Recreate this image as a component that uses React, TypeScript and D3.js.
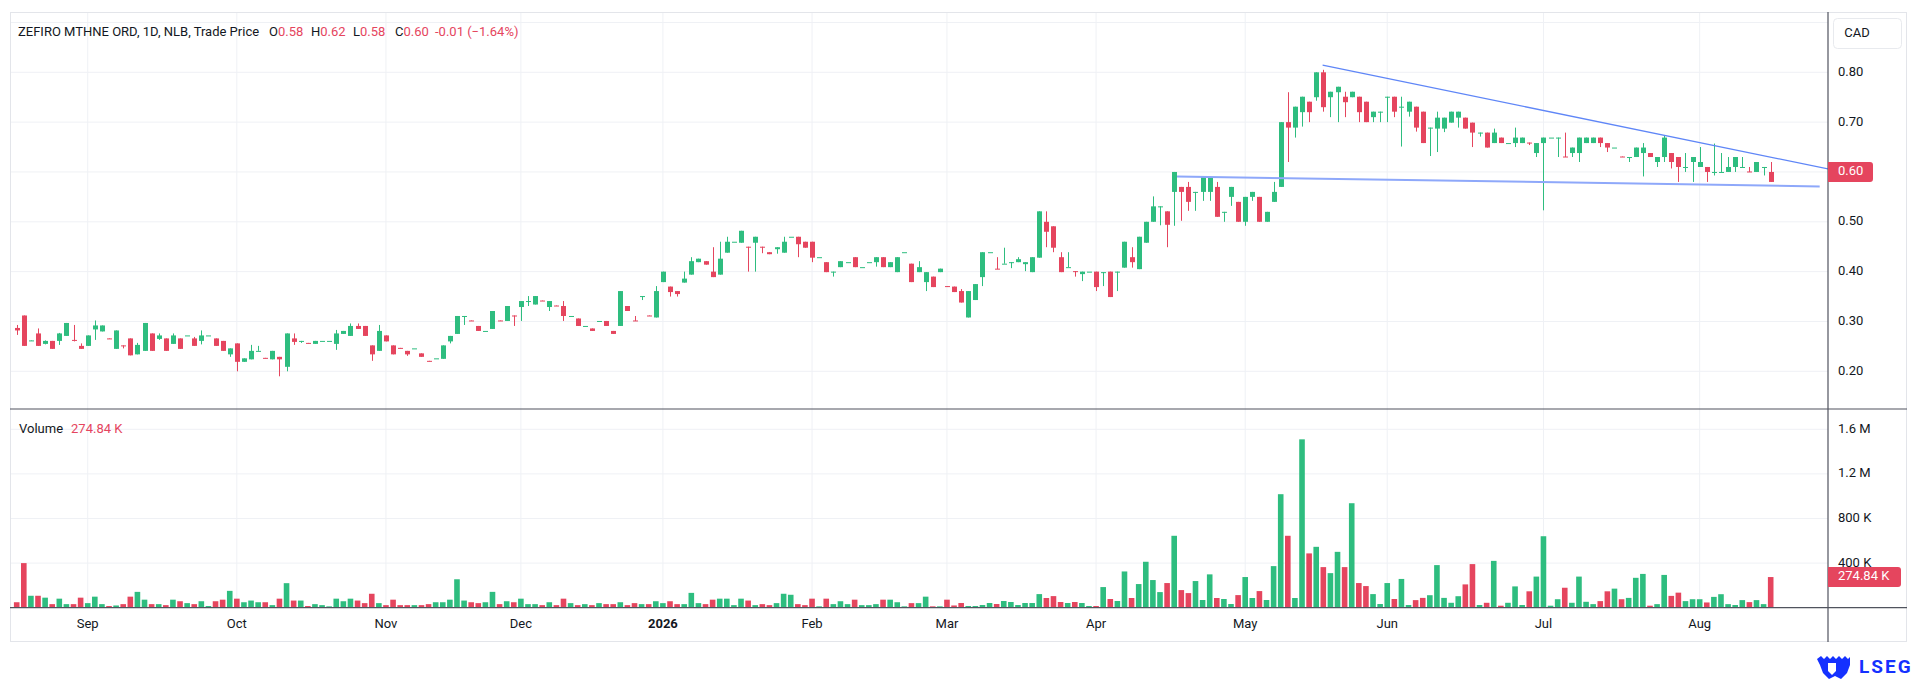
import React from "react";
import * as d3 from "d3";

// [open, high, low, close, volume in thousands]
type Bar = [number, number, number, number, number];

const aug2025: Bar[] = [
  [0.287, 0.293, 0.273, 0.282, 49], [0.312, 0.312, 0.251, 0.251, 400], [0.261, 0.262, 0.261, 0.262, 107],
  [0.276, 0.286, 0.251, 0.251, 107], [0.255, 0.262, 0.254, 0.261, 90], [0.261, 0.261, 0.245, 0.245, 32],
  [0.261, 0.277, 0.253, 0.276, 81], [0.271, 0.297, 0.271, 0.297, 32], [0.263, 0.293, 0.26, 0.261, 32],
  [0.251, 0.256, 0.245, 0.245, 90],
];
const sep2025: Bar[] = [
  [0.251, 0.272, 0.251, 0.272, 41], [0.284, 0.302, 0.263, 0.292, 99], [0.28, 0.292, 0.28, 0.292, 32],
  [0.266, 0.266, 0.265, 0.265, 15], [0.245, 0.282, 0.245, 0.282, 20], [0.252, 0.252, 0.246, 0.251, 32],
  [0.266, 0.266, 0.232, 0.232, 99], [0.234, 0.257, 0.234, 0.253, 142], [0.241, 0.297, 0.241, 0.297, 72],
  [0.276, 0.276, 0.241, 0.241, 32], [0.265, 0.276, 0.263, 0.272, 32], [0.266, 0.266, 0.241, 0.241, 23],
  [0.255, 0.276, 0.255, 0.272, 72], [0.266, 0.266, 0.245, 0.245, 58], [0.272, 0.272, 0.272, 0.272, 41],
  [0.266, 0.269, 0.251, 0.251, 32], [0.261, 0.282, 0.254, 0.272, 58], [0.272, 0.272, 0.272, 0.272, 15],
  [0.266, 0.266, 0.251, 0.251, 58], [0.261, 0.261, 0.241, 0.241, 72], [0.234, 0.246, 0.229, 0.246, 151],
];
const oct2025: Bar[] = [
  [0.256, 0.256, 0.2, 0.219, 81], [0.219, 0.226, 0.219, 0.226, 49], [0.224, 0.253, 0.224, 0.241, 64],
  [0.241, 0.251, 0.241, 0.241, 49], [0.227, 0.227, 0.226, 0.226, 49], [0.224, 0.241, 0.224, 0.241, 23],
  [0.229, 0.229, 0.19, 0.224, 81], [0.209, 0.276, 0.2, 0.276, 220], [0.266, 0.276, 0.253, 0.259, 64],
  [0.261, 0.261, 0.257, 0.261, 64], [0.257, 0.257, 0.256, 0.256, 15], [0.255, 0.261, 0.255, 0.261, 32],
  [0.261, 0.261, 0.261, 0.261, 23], [0.261, 0.261, 0.261, 0.261, 12], [0.255, 0.283, 0.243, 0.276, 81],
  [0.275, 0.281, 0.275, 0.281, 58], [0.271, 0.296, 0.271, 0.291, 81], [0.291, 0.296, 0.285, 0.285, 64],
  [0.291, 0.291, 0.271, 0.271, 41], [0.252, 0.252, 0.221, 0.234, 125], [0.241, 0.293, 0.241, 0.281, 41],
];
const nov2025: Bar[] = [
  [0.272, 0.272, 0.26, 0.26, 23], [0.252, 0.252, 0.234, 0.234, 72], [0.247, 0.247, 0.246, 0.246, 23],
  [0.241, 0.241, 0.231, 0.234, 23], [0.246, 0.246, 0.246, 0.246, 23], [0.236, 0.236, 0.229, 0.229, 23],
  [0.221, 0.221, 0.22, 0.22, 32], [0.226, 0.226, 0.226, 0.226, 49], [0.225, 0.252, 0.225, 0.252, 49],
  [0.26, 0.271, 0.256, 0.271, 72], [0.275, 0.311, 0.275, 0.311, 255], [0.311, 0.311, 0.293, 0.311, 64],
  [0.302, 0.302, 0.301, 0.301, 49], [0.291, 0.291, 0.281, 0.281, 41], [0.281, 0.281, 0.281, 0.281, 49],
  [0.285, 0.321, 0.285, 0.321, 142], [0.302, 0.302, 0.301, 0.301, 32], [0.301, 0.331, 0.301, 0.331, 58],
  [0.312, 0.312, 0.291, 0.311, 49],
];
const dec2025: Bar[] = [
  [0.329, 0.341, 0.301, 0.341, 81], [0.341, 0.351, 0.331, 0.341, 32], [0.334, 0.351, 0.334, 0.351, 32],
  [0.342, 0.342, 0.341, 0.341, 23], [0.329, 0.341, 0.321, 0.341, 49], [0.332, 0.332, 0.331, 0.331, 23],
  [0.331, 0.341, 0.301, 0.311, 81], [0.311, 0.311, 0.311, 0.311, 41], [0.306, 0.306, 0.291, 0.291, 23],
  [0.291, 0.291, 0.291, 0.291, 32], [0.286, 0.286, 0.281, 0.281, 23], [0.301, 0.301, 0.301, 0.301, 41],
  [0.301, 0.301, 0.291, 0.291, 32], [0.281, 0.281, 0.275, 0.275, 32], [0.291, 0.361, 0.291, 0.361, 49],
  [0.331, 0.331, 0.321, 0.321, 23], [0.302, 0.311, 0.301, 0.301, 41], [0.351, 0.351, 0.343, 0.351, 32],
  [0.312, 0.312, 0.311, 0.311, 32], [0.308, 0.371, 0.308, 0.361, 58],
];
const jan2026: Bar[] = [
  [0.379, 0.4, 0.379, 0.4, 41], [0.37, 0.37, 0.35, 0.359, 58], [0.361, 0.361, 0.35, 0.355, 32],
  [0.378, 0.4, 0.378, 0.386, 32], [0.394, 0.429, 0.394, 0.421, 133], [0.419, 0.426, 0.419, 0.426, 41],
  [0.421, 0.421, 0.414, 0.414, 32], [0.4, 0.449, 0.389, 0.389, 72], [0.394, 0.46, 0.394, 0.426, 81],
  [0.438, 0.47, 0.438, 0.46, 81], [0.46, 0.46, 0.46, 0.46, 23], [0.458, 0.482, 0.458, 0.482, 81],
  [0.45, 0.45, 0.4, 0.449, 64], [0.458, 0.47, 0.4, 0.47, 23], [0.45, 0.45, 0.437, 0.449, 32],
  [0.439, 0.439, 0.435, 0.435, 23], [0.445, 0.449, 0.436, 0.449, 41], [0.438, 0.47, 0.438, 0.46, 125],
  [0.47, 0.47, 0.47, 0.47, 116], [0.47, 0.47, 0.429, 0.455, 32], [0.46, 0.46, 0.448, 0.448, 23],
];
const feb2026: Bar[] = [
  [0.46, 0.46, 0.419, 0.428, 81], [0.429, 0.429, 0.429, 0.429, 12], [0.419, 0.419, 0.399, 0.399, 81],
  [0.4, 0.4, 0.39, 0.4, 32], [0.409, 0.421, 0.409, 0.421, 58], [0.419, 0.419, 0.419, 0.419, 32],
  [0.429, 0.429, 0.409, 0.409, 72], [0.409, 0.409, 0.409, 0.409, 23], [0.419, 0.419, 0.419, 0.419, 23],
  [0.419, 0.429, 0.41, 0.429, 32], [0.429, 0.429, 0.409, 0.409, 72], [0.409, 0.419, 0.409, 0.419, 72],
  [0.399, 0.429, 0.399, 0.429, 49], [0.439, 0.439, 0.439, 0.439, 12], [0.416, 0.416, 0.379, 0.379, 41],
  [0.399, 0.421, 0.399, 0.409, 41], [0.379, 0.399, 0.361, 0.399, 99], [0.39, 0.39, 0.369, 0.369, 12],
  [0.399, 0.406, 0.399, 0.406, 12],
];
const mar2026: Bar[] = [
  [0.371, 0.371, 0.37, 0.37, 72], [0.37, 0.37, 0.359, 0.359, 20], [0.361, 0.365, 0.338, 0.338, 42],
  [0.308, 0.361, 0.308, 0.361, 15], [0.343, 0.375, 0.343, 0.375, 15], [0.389, 0.439, 0.371, 0.439, 24],
  [0.439, 0.439, 0.439, 0.439, 42], [0.406, 0.429, 0.405, 0.405, 33], [0.416, 0.448, 0.416, 0.416, 60],
  [0.419, 0.419, 0.407, 0.419, 51], [0.419, 0.429, 0.419, 0.425, 24], [0.415, 0.419, 0.401, 0.419, 42],
  [0.399, 0.429, 0.399, 0.429, 42], [0.428, 0.521, 0.428, 0.521, 122], [0.5, 0.521, 0.449, 0.48, 87],
  [0.491, 0.491, 0.439, 0.448, 104], [0.429, 0.439, 0.399, 0.399, 51], [0.409, 0.439, 0.409, 0.409, 42],
  [0.401, 0.401, 0.39, 0.4, 51], [0.395, 0.4, 0.381, 0.4, 42], [0.4, 0.4, 0.4, 0.4, 15],
];
const apr2026: Bar[] = [
  [0.4, 0.4, 0.361, 0.369, 15], [0.399, 0.399, 0.371, 0.399, 185], [0.4, 0.4, 0.349, 0.349, 78],
  [0.4, 0.4, 0.361, 0.4, 60], [0.408, 0.46, 0.408, 0.46, 325], [0.429, 0.449, 0.408, 0.419, 87],
  [0.405, 0.47, 0.405, 0.47, 212], [0.458, 0.5, 0.458, 0.5, 412], [0.5, 0.551, 0.5, 0.531, 248],
  [0.531, 0.531, 0.493, 0.531, 140], [0.521, 0.521, 0.449, 0.494, 221], [0.56, 0.6, 0.492, 0.6, 645],
  [0.57, 0.57, 0.502, 0.56, 158], [0.57, 0.58, 0.522, 0.54, 131], [0.56, 0.56, 0.522, 0.56, 239],
  [0.56, 0.59, 0.542, 0.59, 69], [0.56, 0.59, 0.542, 0.59, 299], [0.57, 0.58, 0.51, 0.51, 87],
  [0.52, 0.52, 0.5, 0.52, 78], [0.55, 0.57, 0.532, 0.57, 33], [0.54, 0.54, 0.5, 0.5, 113],
];
const may2026: Bar[] = [
  [0.5, 0.55, 0.492, 0.55, 275], [0.55, 0.56, 0.542, 0.56, 87], [0.55, 0.55, 0.5, 0.5, 149],
  [0.5, 0.52, 0.5, 0.52, 69], [0.54, 0.58, 0.54, 0.56, 373], [0.57, 0.7, 0.57, 0.7, 1018],
  [0.7, 0.76, 0.62, 0.689, 645], [0.689, 0.731, 0.669, 0.731, 87], [0.72, 0.751, 0.691, 0.751, 1510],
  [0.741, 0.741, 0.7, 0.72, 487], [0.75, 0.8, 0.743, 0.8, 546], [0.8, 0.805, 0.721, 0.73, 364],
  [0.75, 0.761, 0.71, 0.761, 310], [0.76, 0.771, 0.7, 0.771, 501], [0.751, 0.761, 0.71, 0.74, 364],
  [0.75, 0.761, 0.75, 0.761, 937], [0.751, 0.751, 0.7, 0.72, 221], [0.741, 0.741, 0.7, 0.7, 194],
  [0.71, 0.721, 0.7, 0.721, 122], [0.721, 0.721, 0.7, 0.721, 33],
];
const jun2026: Bar[] = [
  [0.751, 0.751, 0.7, 0.751, 221], [0.751, 0.751, 0.71, 0.721, 78], [0.731, 0.751, 0.651, 0.731, 258],
  [0.721, 0.741, 0.711, 0.741, 24], [0.731, 0.731, 0.681, 0.689, 68], [0.721, 0.721, 0.658, 0.658, 88],
  [0.689, 0.689, 0.632, 0.689, 112], [0.687, 0.721, 0.64, 0.709, 382], [0.687, 0.709, 0.68, 0.709, 88],
  [0.699, 0.721, 0.699, 0.721, 44], [0.709, 0.721, 0.689, 0.721, 103], [0.709, 0.709, 0.687, 0.687, 209],
  [0.699, 0.699, 0.65, 0.679, 391], [0.679, 0.679, 0.671, 0.679, 24], [0.679, 0.679, 0.649, 0.649, 44],
  [0.658, 0.687, 0.658, 0.679, 420], [0.669, 0.669, 0.658, 0.658, 18], [0.658, 0.658, 0.658, 0.658, 44],
  [0.658, 0.689, 0.65, 0.669, 191], [0.658, 0.669, 0.658, 0.669, 24], [0.659, 0.659, 0.654, 0.658, 147],
  [0.638, 0.658, 0.63, 0.658, 279],
];
const jul2026: Bar[] = [
  [0.658, 0.669, 0.523, 0.669, 641], [0.669, 0.669, 0.669, 0.669, 18], [0.669, 0.669, 0.63, 0.669, 76],
  [0.631, 0.679, 0.63, 0.63, 179], [0.638, 0.649, 0.63, 0.649, 44], [0.638, 0.669, 0.62, 0.669, 279],
  [0.658, 0.669, 0.658, 0.669, 53], [0.658, 0.669, 0.658, 0.669, 32], [0.669, 0.669, 0.65, 0.658, 59],
  [0.658, 0.658, 0.64, 0.649, 147], [0.649, 0.649, 0.649, 0.649, 171], [0.631, 0.631, 0.63, 0.63, 76],
  [0.63, 0.63, 0.62, 0.63, 88], [0.63, 0.649, 0.63, 0.649, 268], [0.638, 0.658, 0.591, 0.649, 303],
  [0.638, 0.638, 0.63, 0.63, 18], [0.62, 0.63, 0.61, 0.63, 32], [0.63, 0.674, 0.62, 0.669, 294],
  [0.638, 0.638, 0.607, 0.62, 106], [0.63, 0.63, 0.58, 0.61, 135], [0.61, 0.638, 0.6, 0.61, 59],
  [0.62, 0.63, 0.58, 0.63, 76],
];
const aug2026: Bar[] = [
  [0.61, 0.65, 0.61, 0.62, 76], [0.61, 0.61, 0.58, 0.6, 47], [0.6, 0.657, 0.593, 0.6, 97],
  [0.6, 0.638, 0.6, 0.6, 121], [0.6, 0.63, 0.6, 0.61, 32], [0.61, 0.63, 0.6, 0.63, 24],
  [0.61, 0.63, 0.61, 0.61, 68], [0.601, 0.61, 0.6, 0.6, 50], [0.6, 0.62, 0.6, 0.62, 68],
  [0.61, 0.61, 0.593, 0.61, 32], [0.6, 0.62, 0.58, 0.58, 274.84],
];

const months: { label: string; bold?: boolean; bars: Bar[] }[] = [
  { label: "", bars: aug2025 },
  { label: "Sep", bars: sep2025 },
  { label: "Oct", bars: oct2025 },
  { label: "Nov", bars: nov2025 },
  { label: "Dec", bars: dec2025 },
  { label: "2026", bold: true, bars: jan2026 },
  { label: "Feb", bars: feb2026 },
  { label: "Mar", bars: mar2026 },
  { label: "Apr", bars: apr2026 },
  { label: "May", bars: may2026 },
  { label: "Jun", bars: jun2026 },
  { label: "Jul", bars: jul2026 },
  { label: "Aug", bars: aug2026 },
];

const priceTicks = [0.2, 0.3, 0.4, 0.5, 0.6, 0.7, 0.8];
const priceGrid = [0.2, 0.3, 0.4, 0.5, 0.6, 0.7, 0.8, 0.9];
const volumeTicks = [400, 800, 1200, 1600]; // thousands

// trend lines: [bar index, price]
const upperTrend: [number, number][] = [[183.9, 0.8145], [255.07, 0.606]];
const lowerTrend: [number, number][] = [[163.4, 0.591], [253.9, 0.571]];

const legendTitle = "ZEFIRO MTHNE ORD, 1D, NLB, Trade Price";
const legendValues = [
  { k: "O", v: "0.58" },
  { k: "H", v: "0.62" },
  { k: "L", v: "0.58" },
  { k: "C", v: "0.60" },
];
const legendChange = "-0.01 (\u22121.64%)";
const lastPrice = 0.6;
const lastVolumeLabel = "274.84 K";

const GREEN = "#2ebd7f";
const RED = "#e5455e";
const TEXT = "#131722";
const GRID = "#eff1f5";
const AXIS = "#50535e";
const FONT = "Roboto, 'Noto Sans', sans-serif";

const L = 10;
const R = 1907;
const TOP = 12;
const BOTTOM = 642;
const AXIS_X = 1828;
const PANE_SPLIT = 409;
const VOL_BASE = 607.7;

const App: React.FC = () => {
  const bars: Bar[] = months.flatMap(m => m.bars);
  const monthStarts: { label: string; bold?: boolean; index: number }[] = [];
  let acc = 0;
  months.forEach(m => {
    if (m.label) monthStarts.push({ label: m.label, bold: m.bold, index: acc });
    acc += m.bars.length;
  });

  const x = d3.scaleLinear().domain([-0.944, 255.07]).range([L, AXIS_X]);
  const y = d3.scaleLinear().domain([0.2, 0.8]).range([371.3, 72.3]);
  const yv = d3.scaleLinear().domain([0, 1600]).range([VOL_BASE, 429.3]);
  const volFmt = (v: number) => (v >= 1000 ? `${d3.format(".1f")(v / 1000)} M` : `${v} K`);

  const line = d3
    .line<[number, number]>()
    .x(d => x(d[0]))
    .y(d => y(d[1]));

  const bodyW = 5;
  const volW = 5.6;

  return (
    <svg
      width={1920}
      height={681}
      style={{ position: "absolute", left: 0, top: 0, background: "#fff" }}
      fontFamily={FONT}
    >
      <rect x={0} y={0} width={1920} height={681} fill="#fff" />
      <defs>
        <clipPath id="pricePane">
          <rect x={L} y={TOP} width={AXIS_X - L} height={PANE_SPLIT - TOP} />
        </clipPath>
        <clipPath id="volPane">
          <rect x={L} y={PANE_SPLIT} width={AXIS_X - L} height={VOL_BASE - PANE_SPLIT} />
        </clipPath>
      </defs>

      {/* grid */}
      <g clipPath="url(#pricePane)">
        {priceGrid.map(t => (
          <line key={t} x1={L} x2={AXIS_X} y1={y(t)} y2={y(t)} stroke={GRID} />
        ))}
        {monthStarts.map(m => (
          <line key={m.label} x1={x(m.index)} x2={x(m.index)} y1={TOP} y2={PANE_SPLIT} stroke={GRID} />
        ))}
      </g>
      <g clipPath="url(#volPane)">
        {volumeTicks.map(t => (
          <line key={t} x1={L} x2={AXIS_X} y1={yv(t)} y2={yv(t)} stroke={GRID} />
        ))}
        {monthStarts.map(m => (
          <line key={m.label} x1={x(m.index)} x2={x(m.index)} y1={PANE_SPLIT} y2={VOL_BASE} stroke={GRID} />
        ))}
      </g>

      {/* candles */}
      <g clipPath="url(#pricePane)">
        {bars.map((b, i) => {
          const [o, h, l, c] = b;
          const col = c >= o ? GREEN : RED;
          const cx = Math.round(x(i)) + 0.5;
          const top = y(Math.max(o, c));
          const bot = y(Math.min(o, c));
          return (
            <g key={i}>
              <line x1={cx} x2={cx} y1={y(h)} y2={y(l)} stroke={col} strokeWidth={1} />
              <rect x={cx - bodyW / 2} y={top} width={bodyW} height={Math.max(1, bot - top)} fill={col} />
            </g>
          );
        })}
        <path d={line(lowerTrend) || ""} stroke="#8ea8fa" strokeWidth={2} fill="none" />
        <path d={line(upperTrend) || ""} stroke="#5f86f7" strokeWidth={1.3} fill="none" />
      </g>

      {/* volume */}
      <g clipPath="url(#volPane)">
        {bars.map((b, i) => {
          const [o, , , c, v] = b;
          const col = c >= o ? GREEN : RED;
          return (
            <rect
              key={i}
              x={x(i) - volW / 2}
              y={yv(v)}
              width={volW}
              height={VOL_BASE - yv(v)}
              fill={col}
            />
          );
        })}
      </g>

      {/* frame and separators */}
      <rect x={L + 0.5} y={TOP + 0.5} width={R - L - 1} height={BOTTOM - TOP - 1} fill="none" stroke="#e3e5ea" />
      <line x1={L} x2={R} y1={PANE_SPLIT} y2={PANE_SPLIT} stroke={AXIS} strokeWidth={1.2} />
      <line x1={L} x2={R} y1={VOL_BASE} y2={VOL_BASE} stroke={AXIS} strokeWidth={1.2} />
      <line x1={AXIS_X} x2={AXIS_X} y1={TOP} y2={BOTTOM} stroke={AXIS} strokeWidth={1.2} />

      {/* legend */}
      <text x={18} y={33} dominantBaseline="middle" fontSize={13} fill={TEXT}>
        {legendTitle}
      </text>
      {legendValues.map((d, i) => (
        <text key={d.k} x={269 + i * 42} y={33} dominantBaseline="middle" fontSize={13}>
          <tspan fill={TEXT}>{d.k}</tspan>
          <tspan fill={RED}>{d.v}</tspan>
        </text>
      ))}
      <text x={435} y={33} dominantBaseline="middle" fontSize={13} fill={RED}>
        {legendChange}
      </text>
      <text x={19} y={430} dominantBaseline="middle" fontSize={13}>
        <tspan fill={TEXT}>Volume</tspan>
        <tspan fill={RED} dx={8}>
          {lastVolumeLabel}
        </tspan>
      </text>

      {/* price axis */}
      {priceTicks.map(t => (
        <text key={t} x={1838} y={y(t)} dominantBaseline="middle" fontSize={13} fill={TEXT}>
          {t.toFixed(2)}
        </text>
      ))}
      <rect x={1833.5} y={18.5} width={68} height={30} rx={4} fill="#fff" stroke="#e8eaee" />
      <text x={1857} y={34} dominantBaseline="middle" textAnchor="middle" fontSize={13} fill={TEXT}>
        CAD
      </text>
      <path
        d={`M${AXIS_X},${y(lastPrice) - 10} H1870 a3,3 0 0 1 3,3 V${y(lastPrice) + 7} a3,3 0 0 1 -3,3 H${AXIS_X} Z`}
        fill={RED}
      />
      <text x={1838} y={y(lastPrice)} dominantBaseline="middle" fontSize={13} fill="#fff">
        {lastPrice.toFixed(2)}
      </text>

      {/* volume axis */}
      {volumeTicks.map(t => (
        <text key={t} x={1838} y={yv(t)} dominantBaseline="middle" fontSize={13} fill={TEXT}>
          {volFmt(t)}
        </text>
      ))}
      <path
        d={`M${AXIS_X},${yv(274.84) - 10} H1898 a3,3 0 0 1 3,3 V${yv(274.84) + 7} a3,3 0 0 1 -3,3 H${AXIS_X} Z`}
        fill={RED}
      />
      <text x={1838} y={yv(274.84)} dominantBaseline="middle" fontSize={13} fill="#fff">
        {lastVolumeLabel}
      </text>

      {/* time axis */}
      {monthStarts.map(m => (
        <text
          key={m.label}
          x={x(m.index)}
          y={625}
          dominantBaseline="middle"
          textAnchor="middle"
          fontSize={13}
          fontWeight={m.bold ? "bold" : "normal"}
          fill={TEXT}
        >
          {m.label}
        </text>
      ))}

      {/* LSEG mark */}
      <g fill="#1531ff">
        <path d="M1817,659 l4,-3 l3,3 l3,-3 l3,3 l3,-3 l3,3 l3,-3 l3,3 l3,-3 l3,3 l2,-2 v8 l-3,8 l-6,6 l-6,-3 l-6,3 l-6,-6 l-3,-8 Z" />
        <path d="M1828,663 h8 v8 l-4,4 l-4,-4 Z" fill="#fff" />
        <text x={1859} y={668} dominantBaseline="middle" fontSize={19} fontWeight="bold" letterSpacing={2} fill="#1531ff">
          LSEG
        </text>
      </g>
    </svg>
  );
};

export default App;
